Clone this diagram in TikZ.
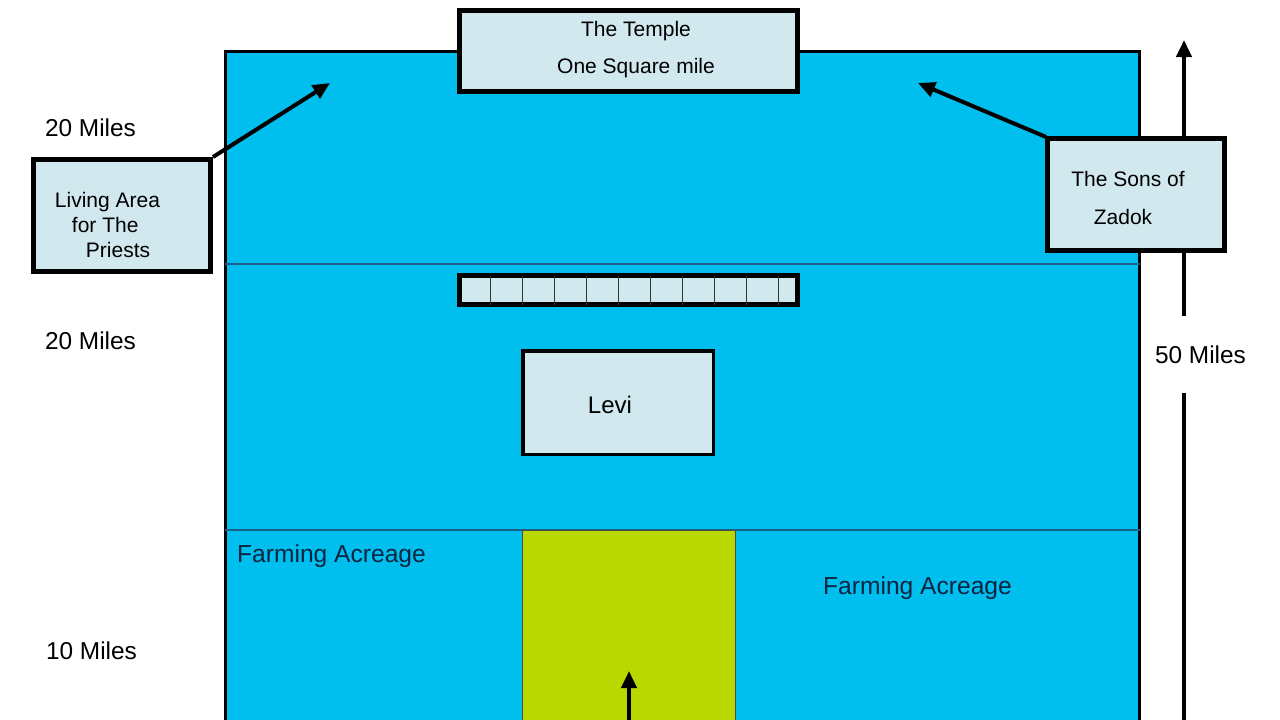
\documentclass[tikz,border=0pt]{standalone}
\usepackage{fontspec}
\setmainfont{Liberation Sans}
\usetikzlibrary{arrows.meta}
\definecolor{sea}{HTML}{00BEEE}
\definecolor{pale}{HTML}{D0E8EE}
\definecolor{lime}{HTML}{B8D800}
\definecolor{divider}{HTML}{1E5F8A}
\definecolor{navy}{HTML}{0B2440}
\tikzset{
  box/.style={draw=black, fill=pale, line width=#1, inner sep=0pt},
  box/.default=5pt,
  lbl/.style={font=\fontsize{24.4}{28}\selectfont, text=black, inner sep=0pt},
  farm/.style={font=\fontsize{24.6}{28}\selectfont, text=navy, inner sep=0pt},
  fat/.style={draw=black, line width=4pt, -{Triangle[length=17pt,width=15pt]}},
  cellline/.style={draw=black!80, line width=1.4pt}
}
\begin{document}
\begin{tikzpicture}[x=1pt,y=-1pt]
\useasboundingbox (0,0) rectangle (1280,720);
\fill[white] (0,0) rectangle (1280,720);
% main area
\draw[fill=sea, line width=3pt] (225.5,51.5) rectangle (1139.5,735);
\draw[divider, line width=1.2pt] (225,264) -- (1140,264);
\draw[divider, line width=1.2pt] (225,530) -- (1140,530);
\draw[fill=lime, draw=black!70, line width=1pt] (522.5,530) rectangle (735.5,735);
% labels
\node[lbl] (l1) at (90.5,128) {20 Miles};
\node[lbl] (l2) at (90.5,341) {20 Miles};
\node[lbl] (l3) at (91.5,651) {10 Miles};
\node[farm, anchor=west] (f1) at (237,556) {Farming Acreage};
\node[farm] (f2) at (917.5,588) {Farming Acreage};
% vertical 50 miles arrow
\node[lbl, minimum height=77pt] (m50) at (1200.5,354.5) {50 Miles};
\coordinate (vtop) at (1184,40);
\coordinate (vbot) at (1184,735);
\draw[fat] (m50.north -| vtop) -- (vtop);
\draw[black, line width=4pt] (vbot) -- (m50.south -| vbot);
% green arrow
\coordinate (gtip) at (629,671);
\coordinate (gbot) at (629,735);
\draw[fat] (gbot) -- (gtip);
% boxes
\node[box, minimum width=338pt, minimum height=81pt] (temple) at (628.5,51) {};
\node[lbl, font=\fontsize{21}{25}\selectfont] (t1) at (636,31) {The Temple};
\node[lbl, font=\fontsize{21}{25}\selectfont] (t2) at (636,68) {One Square mile};
\node[box, minimum width=338pt, minimum height=29pt] (grid) at (628.5,290) {};
\foreach \k in {0,...,9}{
  \draw[cellline] (490.7+32*\k,275.5) -- (490.7+32*\k,304.5);
}
\node[box=3.5pt, minimum width=190.5pt, minimum height=103.5pt] (levi) at (618,402.5) {};
\node[lbl, font=\fontsize{24}{28}\selectfont] (levit) at (610,405) {Levi};
% living area
\node[box, minimum width=177pt, minimum height=112pt] (living) at (122,215.5) {};
\node[lbl, font=\fontsize{21}{25}\selectfont, align=left] (livingt) at (107.5,225)
  {Living Area\\\hspace*{17pt}for The\\\hspace*{31pt}Priests};
\coordinate (ltip) at (330,83);
\draw[fat] (living.north east) -- (ltip);
% sons of zadok
\coordinate (ztip) at (918,83);
\draw[fat] (1046,137) -- (ztip);
\node[box, minimum width=177pt, minimum height=112pt] (zadok) at (1136,194.5) {};
\node[lbl, font=\fontsize{21}{25}\selectfont] (z1) at (1128,179) {The Sons of};
\node[lbl, font=\fontsize{21}{25}\selectfont] (z2) at (1123,217) {Zadok};
\end{tikzpicture}
\end{document}
